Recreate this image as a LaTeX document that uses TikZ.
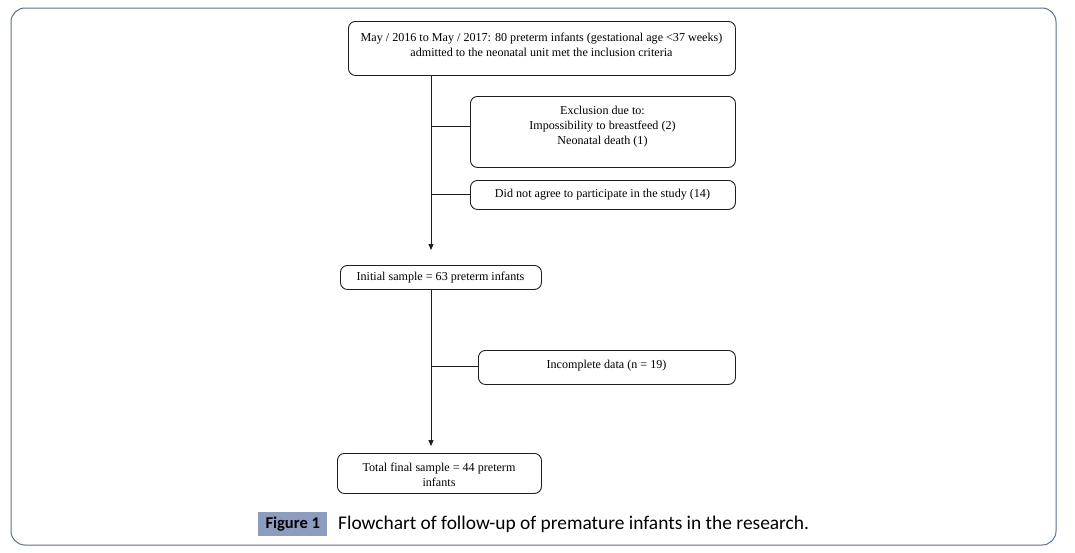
\documentclass[tikz,border=0pt]{standalone}
\usepackage{fontspec}
\setmainfont{Liberation Serif}
\newfontfamily\capfont{Carlito}
\usetikzlibrary{arrows.meta}
\definecolor{framecol}{RGB}{92,110,140}
\definecolor{figlab}{RGB}{140,156,190}
\definecolor{linecol}{RGB}{30,30,30}
\begin{document}
\begin{tikzpicture}[x=1pt,y=-1pt,
  flowbox/.style={draw=linecol,line width=0.9pt,rounded corners=7pt,inner sep=0pt},
  txt/.style={align=center,font=\fontsize{12.1}{15}\selectfont,inner sep=0pt},
  conn/.style={draw=linecol,line width=0.9pt},
  arr/.style={conn,-{Triangle[length=6pt,width=5pt]}}]
\useasboundingbox (0,0) rectangle (1075,552);
\draw[framecol,line width=1pt,rounded corners=14pt] (11,8) rectangle (1056,545);
% boxes
\node[flowbox,minimum width=387pt,minimum height=54pt,anchor=north west] (b1) at (348,21) {};
\node[txt] (t1) at (541.5,44.5) {May / 2016 to May / 2017: 80 preterm infants (gestational age <37 weeks)\\admitted to the neonatal unit met the inclusion criteria};
\node[flowbox,minimum width=265pt,minimum height=71pt,anchor=north west] (b2) at (470,96) {};
\node[txt] (t2) at (602.5,127) {Exclusion due to:\\Impossibility to breastfeed (2)\\Neonatal death (1)};
\node[flowbox,minimum width=265pt,minimum height=29pt,anchor=north west] (b3) at (470,180) {};
\node[txt] (t3) at (602.5,194.5) {Did not agree to participate in the study (14)};
\node[flowbox,minimum width=201pt,minimum height=24pt,anchor=north west] (b4) at (340,265) {};
\node[txt] (t4) at (440.5,278) {Initial sample = 63 preterm infants};
\node[flowbox,minimum width=257pt,minimum height=34pt,anchor=north west] (b5) at (478,350) {};
\node[txt] (t5) at (606.5,365.5) {Incomplete data (n = 19)};
\node[flowbox,minimum width=204pt,minimum height=40pt,anchor=north west] (b6) at (337,453) {};
\node[txt] (t6) at (439,475) {Total final sample = 44 preterm\\infants};
% connectors
\coordinate (s1) at (431,75);
\coordinate (e1) at (431,250);
\coordinate (j1) at (431,126);
\coordinate (j2) at (431,194.5);
\coordinate (s2) at (431,289);
\coordinate (e2) at (431,446);
\coordinate (j3) at (431,366);
\draw[arr] (s1) -- (e1);
\draw[conn] (j1) -- (b2.west |- j1);
\draw[conn] (j2) -- (b3.west |- j2);
\draw[arr] (s2) -- (e2);
\draw[conn] (j3) -- (b5.west |- j3);
% caption
\node[fill=figlab,minimum width=69pt,minimum height=24pt,inner sep=0pt,font=\capfont\fontsize{16.5}{18}\selectfont\bfseries,anchor=north west] (fl) at (258,512) {Figure 1};
\node[anchor=west,font=\capfont\fontsize{19.4}{22}\selectfont,inner sep=0pt] (ct) at (338,524) {Flowchart of follow-up of premature infants in the research.};
\end{tikzpicture}
\end{document}
